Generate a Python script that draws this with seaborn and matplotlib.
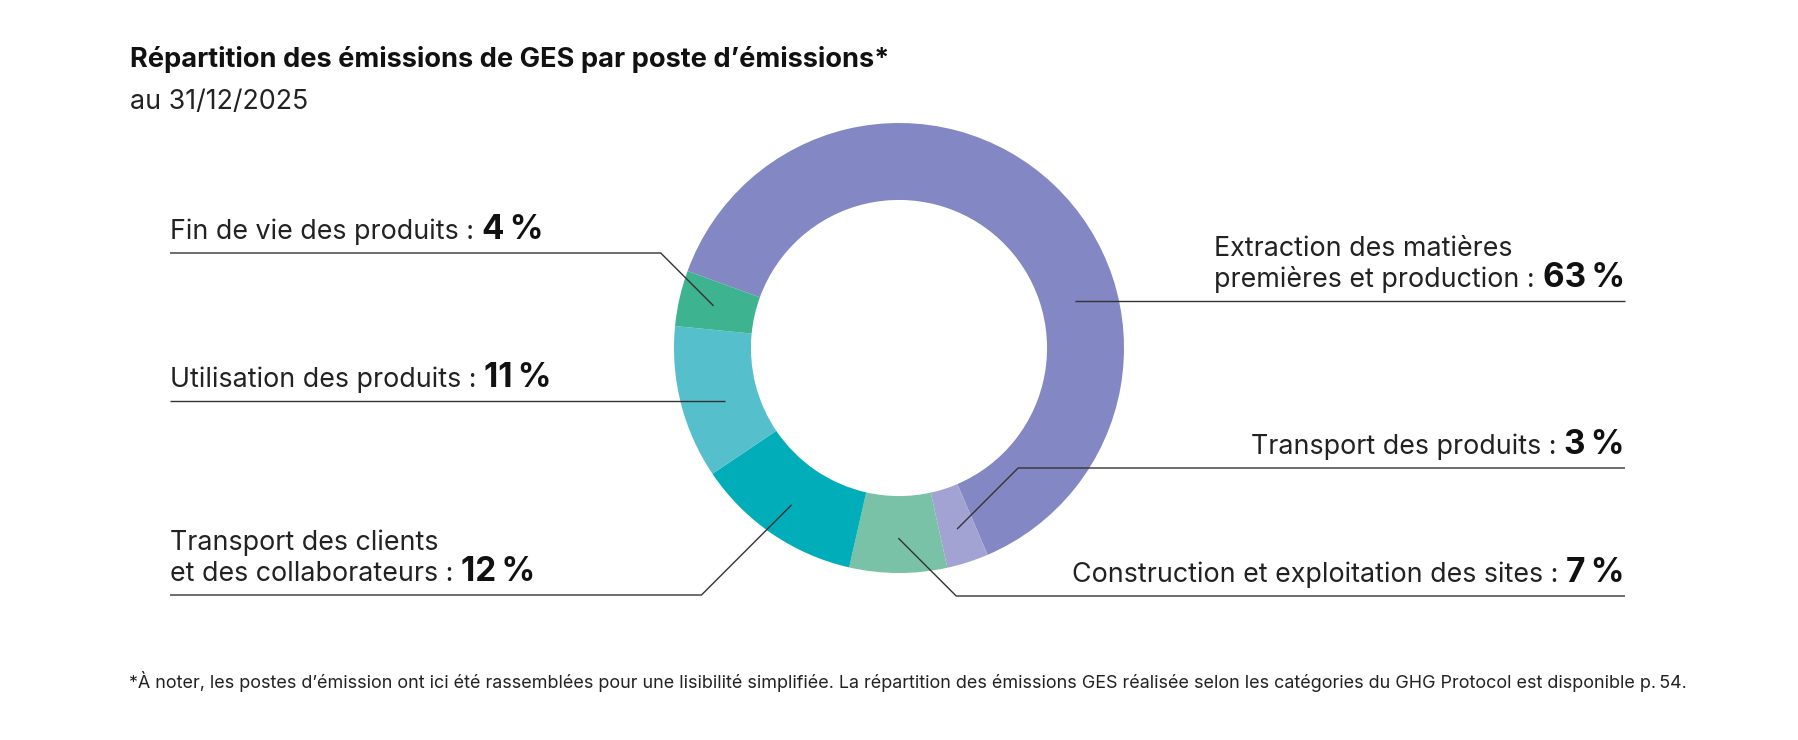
import matplotlib
matplotlib.use("Agg")
import matplotlib.pyplot as plt
import numpy as np
import seaborn as sns

# values
categories = [
    "Extraction des matières\npremières et production",
    "Transport des produits",
    "Construction et exploitation des sites",
    "Transport des clients\net des collaborateurs",
    "Utilisation des produits",
    "Fin de vie des produits",
]
shares = [63, 3, 7, 12, 11, 4]
share_labels = ["63\u2009%", "3\u2009%", "7\u2009%", "12\u2009%", "11\u2009%", "4\u2009%"]
colors = ["#8387c3", "#a3a3d3", "#79c1a7", "#00adb9", "#55bfcb", "#3db38f"]

title = "Répartition des émissions de GES par poste d’émissions*"
subtitle = "au 31/12/2025"
footnote = ("*À noter, les postes d’émission ont ici été rassemblées pour une lisibilité simplifiée. "
            "La répartition des émissions GES réalisée selon les catégories du GHG Protocol est disponible p.\u202f54.")

# label layout: which side, y of the leader line (px from top), leader shape
label_side = ["right", "right", "right", "left", "left", "left"]
label_line_y = [301, 468, 596, 595, 401, 253]
label_kind = ["flat", "elbow", "elbow", "elbow", "flat", "elbow"]

W, H = 1799, 740
CX, CY, R = 899, 348, 225
LEFT_X, RIGHT_X = 170, 1625
LABEL_FS, PCT_FS = 19.3, 24
LINE_GAP = 31

sns.set_theme(style="white")
plt.rcParams["font.family"] = ["Inter", "DejaVu Sans"]

fig = plt.figure(figsize=(W / 100, H / 100), dpi=100)
ax = fig.add_axes([0, 0, 1, 1])
wedges, _ = ax.pie(
    shares,
    colors=colors,
    startangle=160,
    counterclock=False,
    center=(CX, H - CY),
    radius=R,
    wedgeprops=dict(width=R * 0.342, linewidth=0),
)
ax.set_xlim(0, W)
ax.set_ylim(0, H)
ax.set_aspect("auto")
ax.axis("off")

renderer = fig.canvas.get_renderer()


def text_width(t):
    return t.get_window_extent(renderer).width


# leader lines
line_kw = dict(color="#333333", lw=1.0, solid_capstyle="butt")
ring_mid = R * 0.81
for w, side, ly, kind in zip(wedges, label_side, label_line_y, label_kind):
    y = H - ly
    if kind == "elbow":
        mid = np.deg2rad((w.theta1 + w.theta2) / 2)
        px = CX + 0.845 * R * np.cos(mid)
        py = (H - CY) + 0.845 * R * np.sin(mid)
        dy = abs(y - py)
        if side == "left":
            ax.plot([LEFT_X, px - dy, px], [y, y, py], **line_kw)
        else:
            ax.plot([px, px + dy, RIGHT_X], [py, y, y], **line_kw)
    else:
        dx = np.sqrt(ring_mid ** 2 - (y - (H - CY)) ** 2)
        if side == "left":
            ax.plot([LEFT_X, CX - dx], [y, y], **line_kw)
        else:
            ax.plot([CX + dx, RIGHT_X], [y, y], **line_kw)

# labels: regular text followed by the bold share
gap = 8
for cat, pct, side, ly in zip(categories, share_labels, label_side, label_line_y):
    base = H - ly + 14
    lines = cat.split("\n")
    last = lines[-1] + " :"
    if side == "left":
        t = ax.text(LEFT_X, base, last, fontsize=LABEL_FS, color="#222222", va="baseline")
        ax.text(LEFT_X + text_width(t) + gap, base, pct, fontsize=PCT_FS,
                fontweight="bold", color="#111111", va="baseline")
        left_edge = LEFT_X
    else:
        b = ax.text(RIGHT_X, base, pct, fontsize=PCT_FS, fontweight="bold",
                    color="#111111", ha="right", va="baseline")
        xr = RIGHT_X - text_width(b) - gap
        t = ax.text(xr, base, last, fontsize=LABEL_FS, color="#222222",
                    ha="right", va="baseline")
        left_edge = xr - text_width(t)
    for k, extra in enumerate(reversed(lines[:-1]), start=1):
        ax.text(left_edge, base + LINE_GAP * k, extra, fontsize=LABEL_FS,
                color="#222222", va="baseline")

ax.text(130, H - 67, title, fontsize=19.6, fontweight="bold", color="#111111", va="baseline")
ax.text(130, H - 109, subtitle, fontsize=19.3, color="#222222", va="baseline")
ax.text(129, H - 688, footnote, fontsize=12.95, color="#222222", va="baseline")

fig.savefig("out.png", dpi=100)
